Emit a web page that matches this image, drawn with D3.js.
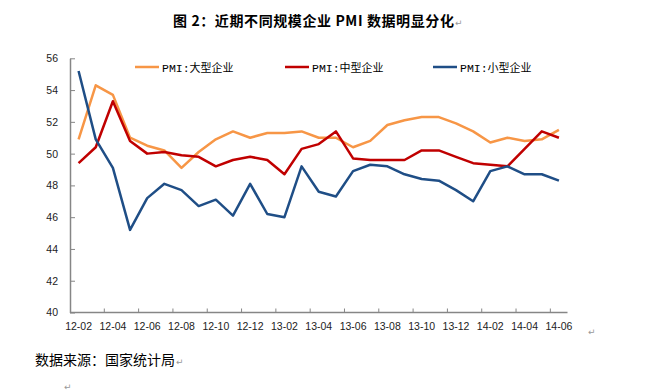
<!DOCTYPE html>
<html>
<head>
<meta charset="utf-8">
<script src="https://cdn.jsdelivr.net/npm/d3@7"></script>
<style>
  body { margin: 0; background: #fff; }
  svg { display: block; }
  .cjk { font-family: "Noto Sans CJK SC", sans-serif; }
  .axis-label { font-family: "Liberation Sans", Arial, sans-serif; font-size: 10.5px; fill: #222; }
  .mark { font-family: "DejaVu Sans", sans-serif; font-size: 9px; fill: #999; }
</style>
</head>
<body>
<script>
const months = ['12-02','12-03','12-04','12-05','12-06','12-07','12-08','12-09','12-10','12-11','12-12',
  '13-01','13-02','13-03','13-04','13-05','13-06','13-07','13-08','13-09','13-10','13-11','13-12',
  '14-01','14-02','14-03','14-04','14-05','14-06'];

const pmi_large = [50.9,54.3,53.7,51.0,50.5,50.2,49.1,50.1,50.9,51.4,51.0,51.3,51.3,51.4,51.0,
  51.0,50.4,50.8,51.8,52.1,52.3,52.3,51.9,51.4,50.7,51.0,50.8,50.9,51.5];
const pmi_medium = [49.4,50.4,53.3,50.8,50.0,50.1,49.9,49.8,49.2,49.6,49.8,49.6,48.7,50.3,50.6,
  51.4,49.7,49.6,49.6,49.6,50.2,50.2,49.8,49.4,49.3,49.2,50.3,51.4,51.0];
const pmi_small = [55.2,50.9,49.1,45.2,47.2,48.1,47.7,46.7,47.1,46.1,48.1,46.2,46.0,49.2,47.6,
  47.3,48.9,49.3,49.2,48.7,48.4,48.3,47.7,47.0,48.9,49.2,48.7,48.7,48.3];

const series_names = ['PMI:大型企业', 'PMI:中型企业', 'PMI:小型企业'];
const y_ticks = [40, 42, 44, 46, 48, 50, 52, 54, 56];

const title = '图 2：近期不同规模企业 PMI 数据明显分化';
const source = '数据来源：国家统计局';

const width = 656;
const height = 391;

let svg = d3.select('body').append('svg')
  .attr('width', width)
  .attr('height', height);

let x = d3.scaleBand()
  .domain(months)
  .range([70, 567.5]);

let y = d3.scaleLinear()
  .domain([40, 56])
  .range([312.5, 58.3]);

const colors = ['#F79646', '#C00000', '#1F4E86'];
const series = [pmi_large, pmi_medium, pmi_small];

// title
svg.append('text')
  .attr('class', 'cjk')
  .attr('x', 173)
  .attr('y', 26)
  .style('font-size', '14px')
  .style('font-weight', 700)
  .style('letter-spacing', '0.6px')
  .attr('fill', '#000')
  .text(title);
svg.append('text')
  .attr('class', 'mark')
  .attr('x', 455)
  .attr('y', 26)
  .text('↵');

// y axis
let yAxis = svg.append('g')
  .attr('transform', 'translate(70,0)')
  .call(d3.axisLeft(y).tickValues(y_ticks).tickSizeInner(-5).tickSizeOuter(0).tickPadding(12));
yAxis.select('.domain').attr('stroke', '#868686').attr('stroke-width', 1.5);
yAxis.selectAll('.tick line').attr('stroke', '#868686');
yAxis.selectAll('.tick text')
  .attr('class', 'axis-label')
  .attr('fill', '#222');

// x axis
svg.append('line')
  .attr('x1', 70).attr('x2', 567.5)
  .attr('y1', y(40)).attr('y2', y(40))
  .attr('stroke', '#868686')
  .attr('stroke-width', 1.5);

let even_months = months.filter((m, i) => i % 2 === 0);

svg.append('g')
  .selectAll('line')
  .data(even_months.slice(1))
  .enter()
  .append('line')
  .attr('x1', d => x(d)).attr('x2', d => x(d))
  .attr('y1', y(40)).attr('y2', y(40) - 4)
  .attr('stroke', '#868686');

svg.append('g')
  .selectAll('text')
  .data(even_months)
  .enter()
  .append('text')
  .attr('class', 'axis-label')
  .attr('x', d => x(d) + x.bandwidth() / 2)
  .attr('y', 330)
  .attr('text-anchor', 'middle')
  .text(d => d);

// lines
let line = d3.line()
  .x((d, i) => x(months[i]) + x.bandwidth() / 2)
  .y(d => y(d));

svg.append('g')
  .selectAll('path')
  .data(series)
  .enter()
  .append('path')
  .attr('d', d => line(d))
  .attr('fill', 'none')
  .attr('stroke', (d, i) => colors[i])
  .attr('stroke-width', 2.5)
  .attr('stroke-linejoin', 'round');

// legend
const legend_x = [135, 285, 433];

let legend = svg.append('g')
  .selectAll('g')
  .data(series_names)
  .enter()
  .append('g')
  .attr('transform', (d, i) => `translate(${legend_x[i]}, 67)`);

legend.append('line')
  .attr('x1', 0).attr('x2', 24)
  .attr('stroke', (d, i) => colors[i])
  .attr('stroke-width', 2.5);

let ltext = legend.append('text')
  .attr('x', 27)
  .attr('y', 4.5)
  .attr('fill', '#000');
ltext.append('tspan')
  .style('font-family', '"Liberation Mono", monospace')
  .style('font-size', '11.5px')
  .text(d => d.slice(0, 4));
ltext.append('tspan')
  .attr('class', 'cjk')
  .style('font-size', '11px')
  .text(d => d.slice(4));

// source
svg.append('text')
  .attr('class', 'cjk')
  .attr('x', 35)
  .attr('y', 365)
  .style('font-size', '14px')
  .attr('fill', '#000')
  .text(source);
svg.append('text')
  .attr('class', 'mark')
  .attr('x', 176)
  .attr('y', 365)
  .text('↵');

svg.append('text')
  .attr('class', 'mark')
  .attr('x', 588)
  .attr('y', 335)
  .text('↵');
svg.append('text')
  .attr('class', 'mark')
  .attr('x', 64)
  .attr('y', 390)
  .text('↵');
</script>
</body>
</html>
